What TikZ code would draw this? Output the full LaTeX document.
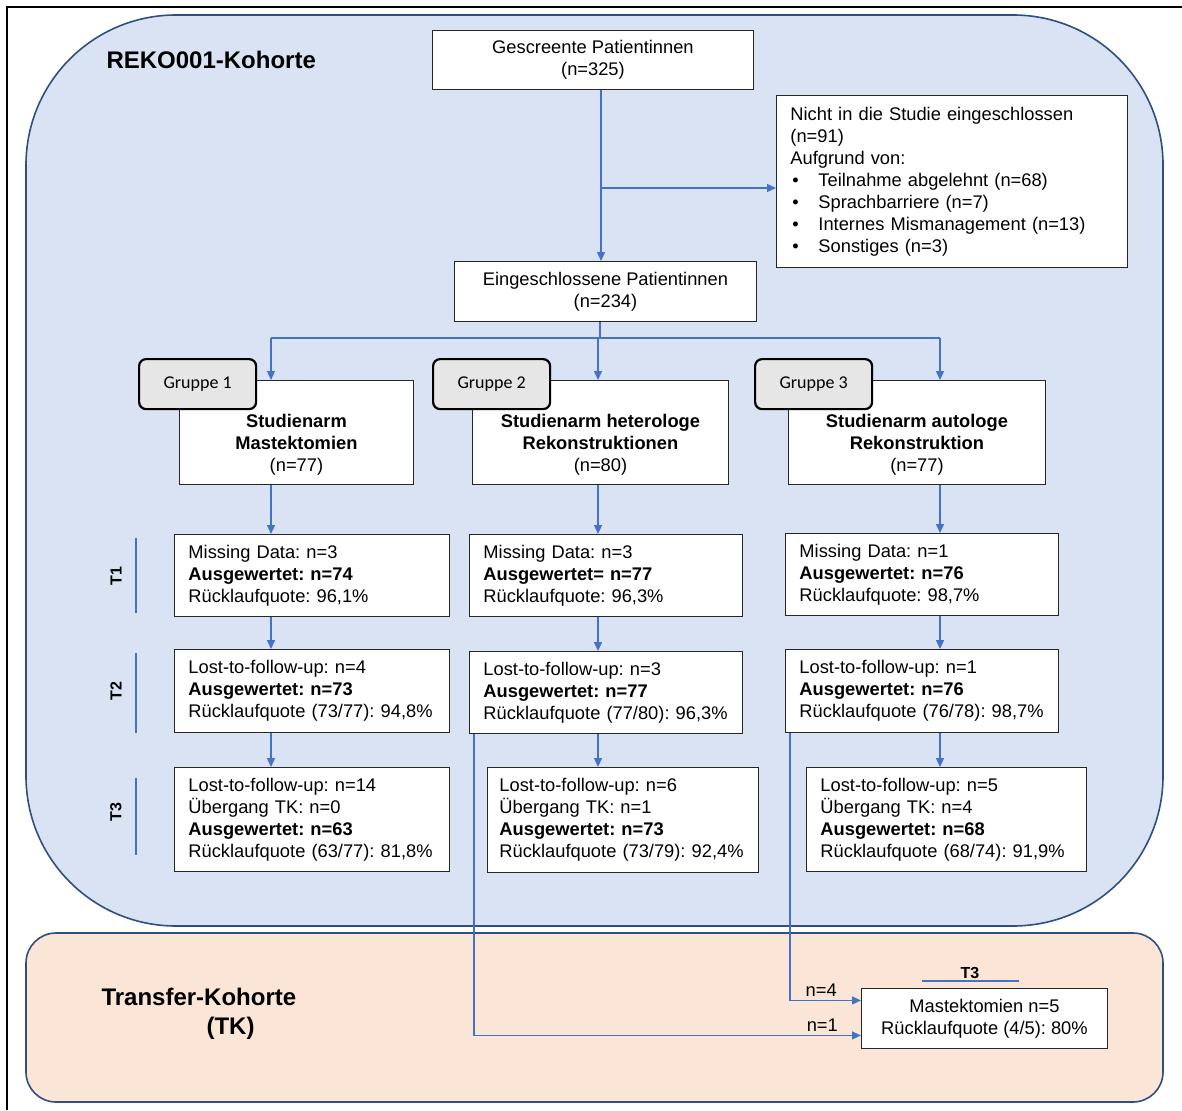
\documentclass[tikz,border=0pt]{standalone}
\usepackage{fontspec}
\setmainfont{Liberation Sans}
\newfontfamily\tabfont{Carlito}
\usetikzlibrary{arrows.meta}

\definecolor{rekoblue}{HTML}{DAE3F3}
\definecolor{tkpeach}{HTML}{FBE5D6}
\definecolor{rim}{HTML}{2F4F80}
\definecolor{flow}{HTML}{4472C4}
\definecolor{tabgray}{HTML}{E7E6E6}

\newcommand{\listdot}{\hspace*{2pt}\makebox[26pt][l]{\textbullet}}
\newcommand{\tabgap}{\rule{0pt}{38pt}}
\frenchspacing

\begin{document}
\begin{tikzpicture}[x=1pt, y=-1pt,
    every node/.style={font=\fontsize{18.3}{22}\selectfont},
    box/.style={draw=black!85, fill=white, line width=0.9pt, anchor=north west,
      inner xsep=14pt, inner ysep=0pt},
    lbox/.style={box, align=left},
    cbox/.style={box, align=center},
    grouptab/.style={draw=black, fill=tabgray, line width=2.2pt, rounded corners=7pt,
      anchor=north west, minimum width=117pt, minimum height=50pt,
      font=\tabfont\fontsize{18}{22}\selectfont},
    region/.style={draw=rim, line width=1.6pt},
    link/.style={draw=flow, line width=1.4pt},
    arr/.style={link, -{Triangle[length=9pt, width=8pt]}},
    tlabel/.style={rotate=90, font=\bfseries\fontsize{16}{16}\selectfont},
    cohorttitle/.style={font=\bfseries\fontsize{24}{29}\selectfont}]

  \useasboundingbox (0,0) rectangle (1182,1110);
  \draw[line width=2pt] (1182,7) -- (7,7) -- (7,1110);

  % Kohorten
  \draw[region, fill=rekoblue, rounded corners=150pt] (26,15) rectangle (1163,926);
  \draw[region, fill=tkpeach, rounded corners=30pt] (26,933) rectangle (1163,1102);
  \node[cohorttitle, anchor=west] (reko) at (103,60) {REKO001-Kohorte};
  \node[cohorttitle, anchor=west, align=left] (tk) at (98,1014)
    {Transfer-Kohorte\\\hspace*{105pt}(TK)};

  % Screening
  \node[cbox, minimum width=321pt, minimum height=59pt] (scr) at (432,30)
    {Gescreente Patientinnen\\(n=325)};
  \node[lbox, text width=323pt, minimum height=172pt] (nicht) at (776,95)
    {Nicht in die Studie eingeschlossen\\(n=91)\\Aufgrund von:\\
     \listdot Teilnahme abgelehnt (n=68)\\
     \listdot Sprachbarriere (n=7)\\
     \listdot Internes Mismanagement (n=13)\\
     \listdot Sonstiges (n=3)};
  \node[cbox, minimum width=302pt, minimum height=60pt] (ein) at (454,261)
    {Eingeschlossene Patientinnen\\(n=234)};

  % Studienarme
  \node[cbox, minimum width=234pt, minimum height=104pt] (arm1) at (179,380)
    {\tabgap\textbf{Studienarm}\\\textbf{Mastektomien}\\(n=77)};
  \node[cbox, minimum width=256pt, minimum height=104pt] (arm2) at (472,380)
    {\tabgap\textbf{Studienarm heterologe}\\\textbf{Rekonstruktionen}\\(n=80)};
  \node[cbox, minimum width=257pt, minimum height=104pt] (arm3) at (788,380)
    {\tabgap\textbf{Studienarm autologe}\\\textbf{Rekonstruktion}\\(n=77)};
  \node[grouptab] (g1) at (138,358) {Gruppe 1};
  \node[grouptab] (g2) at (432,358) {Gruppe 2};
  \node[grouptab] (g3) at (754,358) {Gruppe 3};

  % T1
  \node[lbox, text width=247pt, minimum height=82pt] (ta1) at (174,534)
    {Missing Data: n=3\\\textbf{Ausgewertet: n=74}\\Rücklaufquote: 96,1\%};
  \node[lbox, text width=245pt, minimum height=82pt] (tb1) at (469,534)
    {Missing Data: n=3\\\textbf{Ausgewertet= n=77}\\Rücklaufquote: 96,3\%};
  \node[lbox, text width=245pt, minimum height=82pt] (tc1) at (785,533)
    {Missing Data: n=1\\\textbf{Ausgewertet: n=76}\\Rücklaufquote: 98,7\%};

  % T2
  \node[lbox, text width=247pt, minimum height=83pt] (ta2) at (174,649)
    {Lost-to-follow-up: n=4\\\textbf{Ausgewertet: n=73}\\Rücklaufquote (73/77): 94,8\%};
  \node[lbox, text width=245pt, minimum height=82pt] (tb2) at (469,651)
    {Lost-to-follow-up: n=3\\\textbf{Ausgewertet: n=77}\\Rücklaufquote (77/80): 96,3\%};
  \node[lbox, text width=245pt, minimum height=83pt] (tc2) at (785,649)
    {Lost-to-follow-up: n=1\\\textbf{Ausgewertet: n=76}\\Rücklaufquote (76/78): 98,7\%};

  % T3
  \node[lbox, text width=247pt, minimum height=104pt] (ta3) at (174,767)
    {Lost-to-follow-up: n=14\\Übergang TK: n=0\\\textbf{Ausgewertet: n=63}\\Rücklaufquote (63/77): 81,8\%};
  \node[lbox, inner xsep=12pt, text width=247pt, minimum height=105pt] (tb3) at (487,767)
    {Lost-to-follow-up: n=6\\Übergang TK: n=1\\\textbf{Ausgewertet: n=73}\\Rücklaufquote (73/79): 92,4\%};
  \node[lbox, text width=252pt, minimum height=104pt] (tc3) at (806,767)
    {Lost-to-follow-up: n=5\\Übergang TK: n=4\\\textbf{Ausgewertet: n=68}\\Rücklaufquote (68/74): 91,9\%};

  \node[tlabel] (lt1) at (116,576) {T1};
  \node[tlabel] (lt2) at (116,691) {T2};
  \node[tlabel] (lt3) at (116,812) {T3};
  \draw[link] (136,538) -- (136,613);
  \draw[link] (136,653) -- (136,733);
  \draw[link] (136,778) -- (136,855);

  % Transfer-Kohorte
  \node[cbox, minimum width=246pt, minimum height=60pt] (tkbox) at (861,988)
    {Mastektomien n=5\\Rücklaufquote (4/5): 80\%};
  \node[font=\bfseries\fontsize{16}{16}\selectfont] (tkt3) at (970,973) {T3};
  \draw[link] ([xshift=-48pt]tkt3.center |- 0,981) -- ([xshift=49pt]tkt3.center |- 0,981);

  % Verbindungen
  \coordinate (split) at (601,188);
  \coordinate (hub) at (600,338);
  \coordinate (c1) at (271,0);
  \coordinate (c2) at (598,0);
  \coordinate (c3) at (940,0);
  \draw[arr] (scr.south -| split) -- (ein.north -| split);
  \draw[arr] (split) -- (nicht.west |- split);
  \draw[link] (ein.south -| hub) -- (hub);
  \draw[link] (hub -| c1) -- (hub -| c3);
  \foreach \col/\arm/\first/\second/\third in
      {c1/arm1/ta1/ta2/ta3, c2/arm2/tb1/tb2/tb3, c3/arm3/tc1/tc2/tc3}{
    \draw[arr] (hub -| \col) -- (\arm.north -| \col);
    \draw[arr] (\arm.south -| \col) -- (\first.north -| \col);
    \draw[arr] (\first.south -| \col) -- (\second.north -| \col);
    \draw[arr] (\second.south -| \col) -- (\third.north -| \col);
  }
  \draw[arr] ([xshift=5pt]tb2.south west) |- ([yshift=-17pt]tkbox.west)
    node[pos=0.95, above] {n=1};
  \draw[arr] ([xshift=5pt]tc2.south west) |- ([yshift=18pt]tkbox.west)
    node[pos=0.72, above] {n=4};
\end{tikzpicture}
\end{document}
